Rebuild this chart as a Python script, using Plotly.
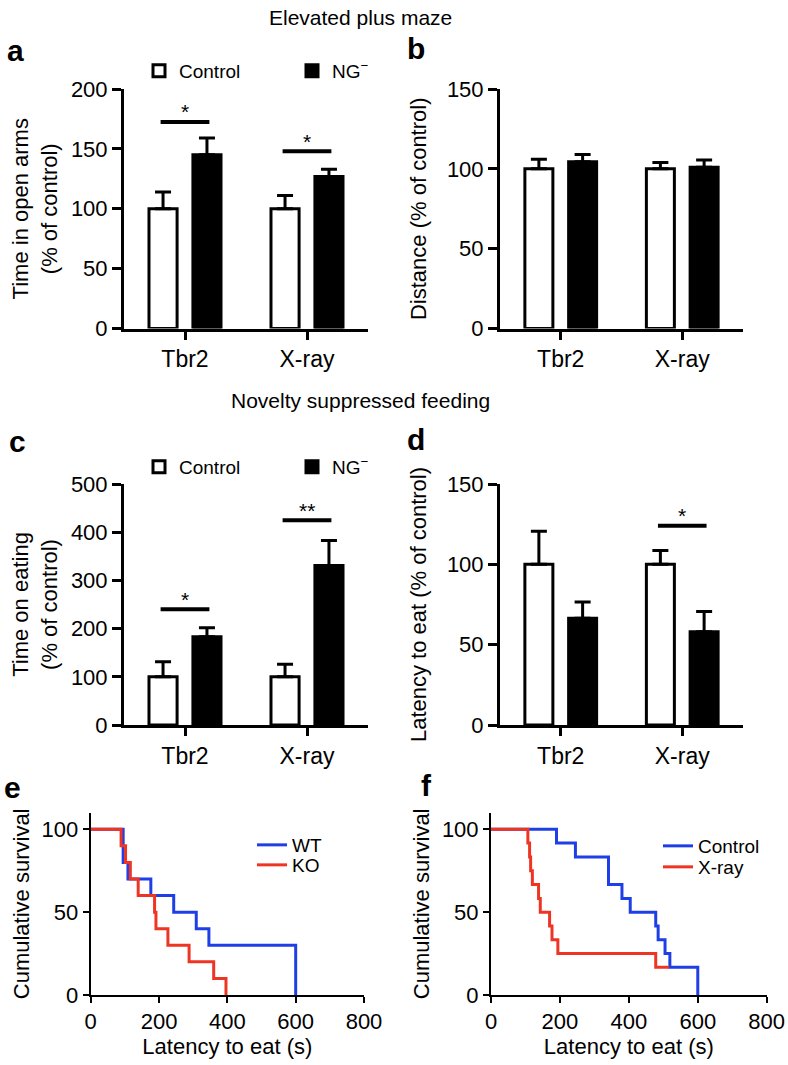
import plotly.graph_objects as go

FONT = "Liberation Sans, Arial, Helvetica, sans-serif"
W, H = 788, 1065

# ---------------- data ----------------
groups = ["Tbr2", "X-ray"]
group_pos = [0, 1]

# a: Elevated plus maze - time in open arms (% of control)
a_ctrl = [100, 100]
a_ctrl_err = [14, 11]
a_ng = [145, 127]
a_ng_err = [14, 6]
a_sig_y = [172.5, 148]
a_sig = ["*", "*"]

# b: Elevated plus maze - distance (% of control)
b_ctrl = [100, 100]
b_ctrl_err = [6, 4]
b_ng = [104.5, 101]
b_ng_err = [4.5, 4.5]

# c: Novelty suppressed feeding - time on eating (% of control)
c_ctrl = [100, 100]
c_ctrl_err = [31, 26]
c_ng = [183, 331]
c_ng_err = [19, 52]
c_sig_y = [240, 425]
c_sig = ["*", "**"]

# d: Novelty suppressed feeding - latency to eat (% of control)
d_ctrl = [100, 100]
d_ctrl_err = [20.6, 8.6]
d_ng = [66.5, 58]
d_ng_err = [10, 12.7]
d_sig_y = [None, 124]
d_sig = ["", "*"]

# e: Kaplan-Meier, Tbr2 WT vs KO
e_wt_t = [0, 95, 109, 176, 243, 309, 346, 600]
e_wt_s = [100, 80, 70, 60, 50, 40, 30, 0]
e_ko_t = [0, 89, 102, 116, 139, 187, 191, 226, 288, 360, 396]
e_ko_s = [100, 90, 80, 70, 60, 50, 40, 30, 20, 10, 0]

# f: Kaplan-Meier, Control vs X-ray
f_ctrl_t = [0, 190, 245, 341, 380, 404, 478, 485, 505, 519, 600]
f_ctrl_s = [100, 91.7, 83.3, 66.7, 58.3, 50, 41.7, 33.3, 25, 16.7, 0]
f_xr_t = [0, 107, 112, 115, 120, 138, 143, 170, 177, 194, 478, 517]
f_xr_s = [100, 91.7, 83.3, 75, 66.7, 58.3, 50, 41.7, 33.3, 25, 16.7, 16.7]

BLUE = "#1f3fe6"
RED = "#ee3524"


def px(x):
    return x / W


def py(y):
    return 1 - y / H


fig = go.Figure()


def add_bars(xa, ya, ctrl, ctrl_err, ng, ng_err, legend=None):
    show = legend is not None
    fig.add_trace(go.Bar(
        x=group_pos, y=ctrl, name="Control", xaxis=xa, yaxis=ya,
        marker=dict(color="white", line=dict(color="black", width=3)),
        error_y=dict(type="data", array=ctrl_err, arrayminus=[0] * len(ctrl),
                     symmetric=False, color="black", thickness=3, width=8),
        showlegend=show, legend=legend if show else None))
    fig.add_trace(go.Bar(
        x=group_pos, y=ng, name="NG<sup>\u2212</sup>", xaxis=xa, yaxis=ya,
        marker=dict(color="black", line=dict(color="black", width=3)),
        error_y=dict(type="data", array=ng_err, arrayminus=[0] * len(ng),
                     symmetric=False, color="black", thickness=3, width=8),
        showlegend=show, legend=legend if show else None))


add_bars("x", "y", a_ctrl, a_ctrl_err, a_ng, a_ng_err, legend="legend")
add_bars("x2", "y2", b_ctrl, b_ctrl_err, b_ng, b_ng_err)
add_bars("x3", "y3", c_ctrl, c_ctrl_err, c_ng, c_ng_err, legend="legend2")
add_bars("x4", "y4", d_ctrl, d_ctrl_err, d_ng, d_ng_err)

# significance bars
shapes = []
annotations = []


def add_sig(xref, yref, ys, labels):
    for pos, yv, lab in zip(group_pos, ys, labels):
        if yv is None:
            continue
        shapes.append(dict(type="line", xref=xref, yref=yref,
                           x0=pos - 0.2, x1=pos + 0.2, y0=yv, y1=yv,
                           line=dict(color="black", width=4)))
        annotations.append(dict(xref=xref, yref=yref, x=pos, y=yv, text=lab,
                                showarrow=False, yanchor="middle", yshift=10,
                                font=dict(family=FONT, size=21, color="black")))


add_sig("x", "y", a_sig_y, a_sig)
add_sig("x3", "y3", c_sig_y, c_sig)
add_sig("x4", "y4", d_sig_y, d_sig)

# survival curves
fig.add_trace(go.Scatter(x=e_wt_t, y=e_wt_s, mode="lines", line_shape="hv",
                         line=dict(color=BLUE, width=3), name="WT",
                         xaxis="x5", yaxis="y5", legend="legend3"))
fig.add_trace(go.Scatter(x=e_ko_t, y=e_ko_s, mode="lines", line_shape="hv",
                         line=dict(color=RED, width=3), name="KO",
                         xaxis="x5", yaxis="y5", legend="legend4"))
fig.add_trace(go.Scatter(x=f_ctrl_t, y=f_ctrl_s, mode="lines", line_shape="hv",
                         line=dict(color=BLUE, width=3), name="Control",
                         xaxis="x6", yaxis="y6", legend="legend5"))
fig.add_trace(go.Scatter(x=f_xr_t, y=f_xr_s, mode="lines", line_shape="hv",
                         line=dict(color=RED, width=3), name="X-ray",
                         xaxis="x6", yaxis="y6", legend="legend6"))

tickfont = dict(family=FONT, size=22, color="black")
catfont = dict(family=FONT, size=23, color="black")
titlefont = dict(family=FONT, size=22, color="black")

dom_ax_left = [px(124), px(368)]
dom_ax_right = [px(500), px(743)]
dom_top = [py(328.5), py(89)]
dom_mid = [py(725), py(484)]
dom_e = [px(90.7), px(364)]
dom_f = [px(491), px(766.7)]
dom_bot = [py(995), py(812.7)]


def bar_xaxis(domain, anchor):
    return dict(domain=domain, anchor=anchor, range=[-0.5, 1.5], automargin=False,
                tickmode="array", tickvals=group_pos, ticktext=groups,
                showline=True, linecolor="black", linewidth=3,
                ticks="outside", ticklen=8, tickwidth=3, tickcolor="black",
                tickfont=catfont, showgrid=False, zeroline=False, fixedrange=True)


def bar_yaxis(domain, anchor, rng, dtick, title, standoff):
    return dict(domain=domain, anchor=anchor, range=rng, dtick=dtick, automargin=False,
                showline=True, linecolor="black", linewidth=3,
                ticks="outside", ticklen=9, tickwidth=3, tickcolor="black",
                tickfont=tickfont, showgrid=False, zeroline=False,
                title=dict(text=title, font=titlefont, standoff=standoff))


def surv_xaxis(domain, anchor):
    return dict(domain=domain, anchor=anchor, range=[0, 800], dtick=200, automargin=False,
                showline=True, linecolor="black", linewidth=2,
                ticks="outside", ticklen=6, tickwidth=2, tickcolor="black",
                tickfont=tickfont, showgrid=False, zeroline=False,
                title=dict(text="Latency to eat (s)", font=titlefont, standoff=0))


def surv_yaxis(domain, anchor):
    return dict(domain=domain, anchor=anchor, range=[0, 110], automargin=False,
                tickvals=[0, 50, 100],
                showline=True, linecolor="black", linewidth=2,
                ticks="outside", ticklen=6, tickwidth=2, tickcolor="black",
                tickfont=tickfont, showgrid=False, zeroline=False,
                title=dict(text="Cumulative survival", font=titlefont, standoff=6))


def top_axis(over, anchor):
    return dict(overlaying=over, anchor=anchor, side="top", range=[0, 800], automargin=False,
                tickvals=[200, 400, 600], showticklabels=False,
                showline=True, linecolor="black", linewidth=2,
                ticks="inside", ticklen=6, tickwidth=2, tickcolor="black",
                showgrid=False, zeroline=False)


def right_axis(over, anchor):
    return dict(overlaying=over, anchor=anchor, side="right", range=[0, 110], automargin=False,
                tickvals=[50, 100], showticklabels=False,
                showline=True, linecolor="black", linewidth=2,
                ticks="inside", ticklen=6, tickwidth=2, tickcolor="black",
                showgrid=False, zeroline=False)


legend_common = dict(orientation="h", bgcolor="rgba(0,0,0,0)",
                     font=dict(family=FONT, size=19, color="black"),
                     xanchor="left", yanchor="top", entrywidth=108,
                     entrywidthmode="pixels", traceorder="normal")
surv_legend = dict(orientation="v", bgcolor="rgba(0,0,0,0)",
                   font=dict(family=FONT, size=19, color="black"),
                   xanchor="left", yanchor="top", itemwidth=30)

# section titles and panel letters
annotations += [
    dict(xref="paper", yref="paper", x=px(360), y=py(18), text="Elevated plus maze",
         showarrow=False, yanchor="middle", font=dict(family=FONT, size=21, color="black")),
    dict(xref="paper", yref="paper", x=px(360), y=py(400), text="Novelty suppressed feeding",
         showarrow=False, yanchor="middle", font=dict(family=FONT, size=21, color="black")),
]
for letter, lx, ly in [("a", 16, 50), ("b", 416, 48), ("c", 17, 441), ("d", 416, 439),
                       ("e", 12, 787), ("f", 426, 785)]:
    annotations.append(dict(xref="paper", yref="paper", x=px(lx), y=py(ly),
                            text="<b>%s</b>" % letter, showarrow=False,
                            xanchor="center", yanchor="middle",
                            font=dict(family=FONT, size=30, color="black")))

fig.update_layout(
    width=W, height=H, autosize=False,
    margin=dict(l=0, r=0, t=0, b=0, autoexpand=False),
    paper_bgcolor="white", plot_bgcolor="white",
    barmode="group", bargap=0.28, bargroupgap=0.36,
    font=dict(family=FONT, color="black"),
    xaxis=bar_xaxis(dom_ax_left, "y"),
    yaxis=bar_yaxis(dom_top, "x", [0, 200], 50, "Time in open arms<br>(% of control)", 8),
    xaxis2=bar_xaxis(dom_ax_right, "y2"),
    yaxis2=bar_yaxis(dom_top, "x2", [0, 150], 50, "Distance (% of control)", 15),
    xaxis3=bar_xaxis(dom_ax_left, "y3"),
    yaxis3=bar_yaxis(dom_mid, "x3", [0, 500], 100, "Time on eating<br>(% of control)", 8),
    xaxis4=bar_xaxis(dom_ax_right, "y4"),
    yaxis4=bar_yaxis(dom_mid, "x4", [0, 150], 50, "Latency to eat (% of control)", 15),
    xaxis5=surv_xaxis(dom_e, "y5"),
    yaxis5=surv_yaxis(dom_bot, "x5"),
    xaxis6=surv_xaxis(dom_f, "y6"),
    yaxis6=surv_yaxis(dom_bot, "x6"),
    xaxis7=top_axis("x5", "y5"),
    yaxis7=right_axis("y5", "x5"),
    xaxis8=top_axis("x6", "y6"),
    yaxis8=right_axis("y6", "x6"),
    legend=dict(legend_common, x=px(139), y=py(52)),
    legend2=dict(legend_common, x=px(139), y=py(448)),
    legend3=dict(surv_legend, x=px(252), y=py(826)),
    legend4=dict(surv_legend, x=px(252), y=py(846)),
    legend5=dict(surv_legend, x=px(658), y=py(827)),
    legend6=dict(surv_legend, x=px(658), y=py(848)),
    shapes=shapes,
    annotations=annotations,
)

fig.write_html("out.html", config={"displayModeBar": False},
               post_script="document.body.style.margin='0px';document.body.style.padding='0px';")
